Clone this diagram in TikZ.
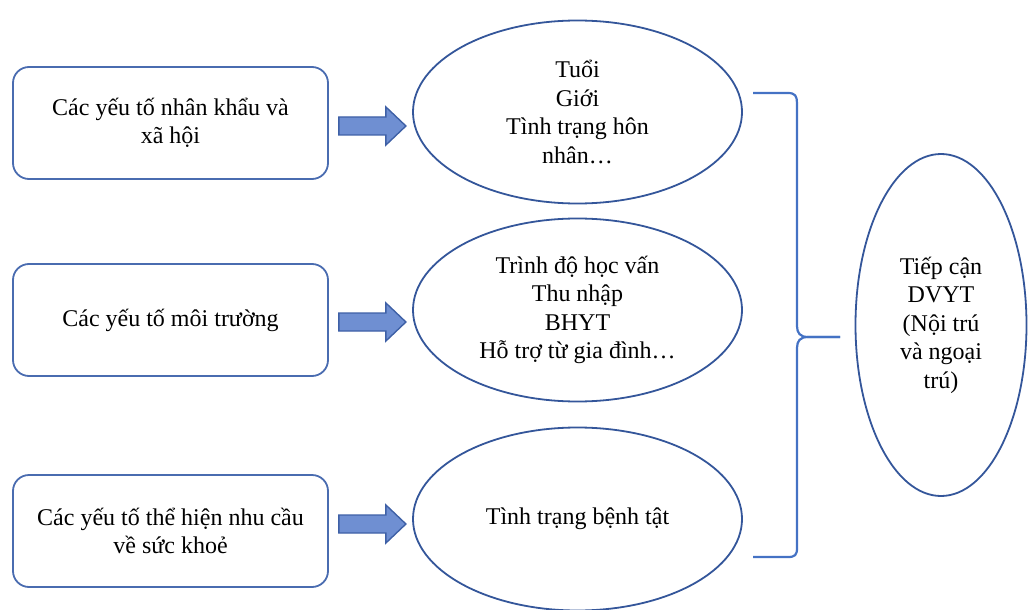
\documentclass[tikz,border=0pt]{standalone}
\usepackage{fontspec}
\setmainfont{Liberation Serif}
\usetikzlibrary{positioning}
\usetikzlibrary{shapes.geometric}
\usetikzlibrary{calc}
\definecolor{boxblue}{HTML}{4A6CB0}
\definecolor{ovalblue}{HTML}{34569A}
\definecolor{arrowfill}{HTML}{6F8FD2}
\definecolor{arrowline}{HTML}{3E60A6}
\definecolor{braceblue}{HTML}{4472C4}

\begin{document}
\begin{tikzpicture}[x = 0.5pt, y = -0.5pt,
	factor/.style = {draw = boxblue, line width = 0.9pt, rounded corners = 8pt, minimum width = 157.5pt, minimum height = 56pt, align = center, font = \fontsize{12}{14.25}\selectfont},
	group/.style = {ellipse, draw = ovalblue, line width = 0.9pt, minimum width = 164.5pt, minimum height = 91.5pt, inner sep = 0pt, align = center, font = \fontsize{12}{14.25}\selectfont},
	blockarrow/.style = {fill = arrowfill, draw = arrowline, line width = 0.7pt},
	brace/.style = {draw = braceblue, line width = 1.1pt}]
					\useasboundingbox (0, 0) rectangle (1028, 610);
					% left column
					\node [factor] (demo) at (170.5, 123) {Các yếu tố nhân khẩu và\\xã hội};
					\node [factor] (env) at (170.5, 320) {Các yếu tố môi trường};
					\node [factor] (need) at (170.5, 531) {Các yếu tố thể hiện nhu cầu\\về sức khoẻ};
					% middle column
					\node [group] (age) at (577.5, 112) {Tuổi\\Giới\\Tình trạng hôn\\nhân…};
					\node [group] (edu) at (577.5, 310) {Trình độ học vấn\\Thu nhập\\BHYT\\Hỗ trợ từ gia đình…};
					\node [group] (ill) at (577.5, 519) {Tình trạng bệnh tật};
					% right
					\node [ellipse, draw = ovalblue, line width = 0.9pt, minimum width = 85.5pt, minimum height = 171pt, inner sep = 0pt, align = center, font = \fontsize{12}{14.25}\selectfont] (access) at (941, 325) {Tiếp cận\\DVYT\\(Nội trú\\và ngoại\\trú)};
					% block arrows
					\foreach \from/\to/\dy in {demo/age/3, env/edu/2, need/ill/-7} {
						\path [blockarrow] ($(\from.east) + (10, \dy - 9)$) -- ++(47, 0) -- ++(0, -10) -- ++(20, 19) -- ++(-20, 19) -- ++(0, -10) -- ++(-47, 0) -- cycle;
					}
					% brace
					\coordinate (bracetop) at (753, 93);
					\coordinate (bracetip) at (840, 337);
					\coordinate (bracebot) at (753, 557);
					\draw [brace] (bracetop) -- ++(35, 0) .. controls (795, 93) and (797, 96) .. (797, 103) -- (797, 326) .. controls (797, 333) and (800, 337) .. (808, 337) -- (bracetip);
					\draw [brace] (bracetip) -- (808, 337) .. controls (800, 337) and (797, 341) .. (797, 348) -- (797, 548) .. controls (797, 555) and (795, 557) .. (788, 557) -- (bracebot);
				\end{tikzpicture}
\end{document}
